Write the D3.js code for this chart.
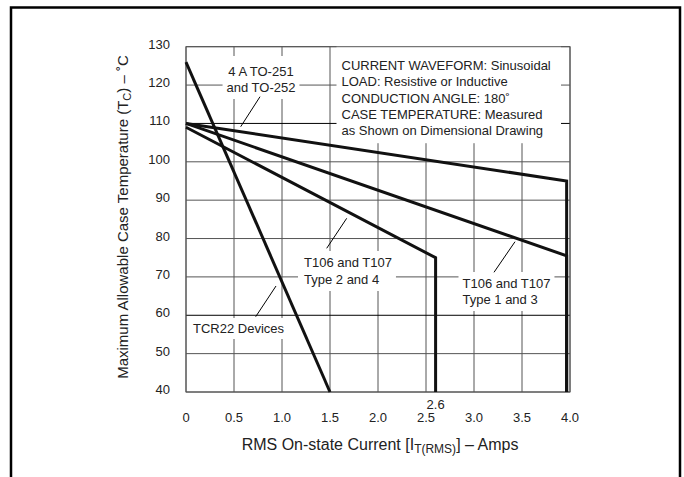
<!DOCTYPE html>
<html>
<head>
<meta charset="utf-8">
<script src="https://cdn.jsdelivr.net/npm/d3@7"></script>
<style>
  body { margin:0; background:#fff; }
  text { font-family:"Liberation Sans", Arial, sans-serif; fill:#222; }
</style>
</head>
<body>
<div id="chart"></div>
<script>
// ---- data ----
const xTicks = [0, 0.5, 1.0, 1.5, 2.0, 2.5, 3.0, 3.5, 4.0];
const xTickLabels = ["0", "0.5", "1.0", "1.5", "2.0", "2.5", "3.0", "3.5", "4.0"];
const yTicks = [40, 50, 60, 70, 80, 90, 100, 110, 120, 130];

const tcr22X = [0, 1.5];
const tcr22Y = [126, 40];
const type24X = [0, 2.6, 2.6];
const type24Y = [109, 75, 40];
const type13X = [0, 3.965, 3.965];
const type13Y = [110, 75.5, 40];
const to251X = [0, 3.965, 3.965];
const to251Y = [110, 95, 40];

const boxLines = [
  "CURRENT WAVEFORM: Sinusoidal",
  "LOAD: Resistive or Inductive",
  "CONDUCTION ANGLE: 180˚",
  "CASE TEMPERATURE: Measured",
  "as Shown on Dimensional Drawing"
];

const W = 684, H = 477;
const svg = d3.select("#chart").append("svg")
  .attr("width", W).attr("height", H);

// outer frame (open at bottom)
svg.append("path")
  .attr("d", `M11,${H} V7.5 H680 V${H}`)
  .attr("fill", "none").attr("stroke", "#000").attr("stroke-width", 2.5);

const x = d3.scaleLinear().domain([0, 4]).range([186, 570]);
const y = d3.scaleLinear().domain([40, 130]).range([392, 46.7]);

/* ---------------- GRID ---------------- */
const grid = svg.append("g");
grid.selectAll(".vg").data(xTicks).join("line")
  .attr("x1", d => x(d)).attr("x2", d => x(d))
  .attr("y1", y(40)).attr("y2", y(130))
  .attr("stroke", "#555").attr("stroke-width", 1);
grid.selectAll(".hg").data(yTicks).join("line")
  .attr("x1", x(0)).attr("x2", x(4))
  .attr("y1", d => y(d)).attr("y2", d => y(d))
  .attr("stroke", d => (d === 110 || d === 60) ? "#000" : "#555")
  .attr("stroke-width", 1);

/* ---------------- LABELS WITH WHITE BACKING ---------------- */
const labels = svg.append("g");
function label(lines, lx, ly, anchor, lh, pad) {
  const g = labels.append("g");
  const bg = g.append("rect").attr("fill", "#fff");
  const t = g.append("text").attr("text-anchor", anchor).style("font-size", "13px");
  lines.forEach((s, i) => t.append("tspan").attr("x", lx).attr("y", ly + i * lh).text(s));
  const b = t.node().getBBox();
  bg.attr("x", b.x - pad[0]).attr("y", b.y - pad[1])
    .attr("width", b.width + pad[0] + pad[2]).attr("height", b.height + pad[1] + pad[3]);
}
label(["4 A TO-251", "and TO-252"], 261, 76, "middle", 16, [4, 8, 4, 4]);
label(boxLines, 341.5, 70, "start", 16.3, [5, 13, 999, 5]);
label(["T106 and T107", "Type 2 and 4"], 304, 267, "start", 17, [6, 4, 4, 4]);
label(["TCR22 Devices"], 193, 333, "start", 16, [4, 3, 4, 3]);
label(["T106 and T107", "Type 1 and 3"], 462.5, 288, "start", 16, [4, 4, 4, 4]);
// keep box from spilling over right grid edge
labels.selectAll("rect").each(function() {
  const r = d3.select(this);
  const xr = +r.attr("x") + +r.attr("width");
  if (xr > 561) r.attr("width", 561 - +r.attr("x"));
});

// plot border
svg.append("rect")
  .attr("x", x(0)).attr("y", y(130))
  .attr("width", x(4) - x(0)).attr("height", y(40) - y(130))
  .attr("fill", "none").attr("stroke", "#555").attr("stroke-width", 1);

/* ---------------- LEADERS ---------------- */
const leaders = [
  [[260, 96.7], [240.7, 126.7]],
  [[346.7, 218.3], [326.7, 248.3]],
  [[276, 286], [255.7, 316.7]],
  [[515, 241.7], [494, 272.3]]
];
svg.selectAll(".leader").data(leaders).join("line")
  .attr("x1", d => d[0][0]).attr("y1", d => d[0][1])
  .attr("x2", d => d[1][0]).attr("y2", d => d[1][1])
  .attr("stroke", "#000").attr("stroke-width", 1);

/* ---------------- CURVES ---------------- */
const line = d3.line().x(d => x(d[0])).y(d => y(d[1]));
const curves = [
  d3.zip(tcr22X, tcr22Y),
  d3.zip(type24X, type24Y),
  d3.zip(type13X, type13Y),
  d3.zip(to251X, to251Y)
];
svg.selectAll(".curve").data(curves).join("path")
  .attr("d", line)
  .attr("fill", "none").attr("stroke", "#111")
  .attr("stroke-width", 3).attr("stroke-linejoin", "miter");

/* ---------------- AXES TEXT ---------------- */
svg.selectAll(".yl").data(yTicks).join("text")
  .attr("x", 170).attr("y", d => y(d) + 2)
  .attr("text-anchor", "end").style("font-size", "13px")
  .text(d => d);

svg.selectAll(".xl").data(xTicks).join("text")
  .attr("x", d => x(d)).attr("y", 421.5)
  .attr("text-anchor", "middle").style("font-size", "13px")
  .text((d, i) => xTickLabels[i]);

svg.append("text")
  .attr("x", x(2.6)).attr("y", 409)
  .attr("text-anchor", "middle").style("font-size", "13px")
  .text("2.6");

const xt = svg.append("text")
  .attr("x", 380).attr("y", 450)
  .attr("text-anchor", "middle").style("font-size", "16px");
xt.append("tspan").text("RMS On-state Current [I");
xt.append("tspan").attr("baseline-shift", "-25%").style("font-size", "12px").text("T(RMS)");
xt.append("tspan").text("] – Amps");

const yt = svg.append("text")
  .attr("transform", `translate(128,${217}) rotate(-90)`)
  .attr("text-anchor", "middle").style("font-size", "15px");
yt.append("tspan").text("Maximum Allowable Case Temperature (T");
yt.append("tspan").attr("baseline-shift", "-25%").style("font-size", "11px").text("C");
yt.append("tspan").text(") – ˚C");
</script>
</body>
</html>
